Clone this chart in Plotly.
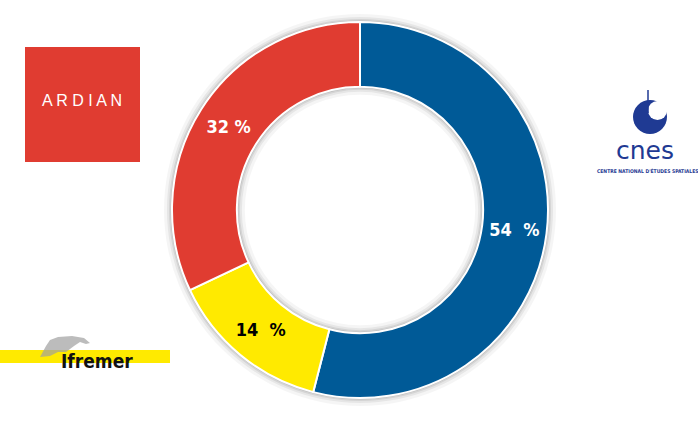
import plotly.graph_objects as go

W, H = 698, 424

labels = ["CNES", "Ifremer", "Ardian"]
values = [54, 14, 32]
text_labels = ["54  %", "14  %", "32 %"]
colors = ["#005A97", "#FFEA00", "#E03C31"]
text_colors = ["white", "black", "white"]

def px(x):
    return x / W

def py(y):
    return 1 - y / H

cx, cy, r = 360, 210, 188
HOLE = 0.655

fig = go.Figure()

# soft shadow rings behind the donut
for extra, alpha in [(8, 0.04), (5, 0.06), (3, 0.08), (1.5, 0.10)]:
    fig.add_trace(go.Pie(
        values=[1], marker=dict(colors=[f"rgba(0,0,0,{alpha})"]),
        hole=(r * HOLE - extra) / (r + extra), textinfo="none", hoverinfo="skip",
        showlegend=False, sort=False,
        domain=dict(x=[px(cx - r - extra), px(cx + r + extra)],
                    y=[py(cy + r + extra), py(cy - r - extra)]),
    ))

fig.add_trace(go.Pie(
    labels=labels, values=values, text=text_labels,
    textinfo="text", textposition="inside", insidetextorientation="horizontal",
    textfont=dict(family="DejaVu Sans Condensed, DejaVu Sans, sans-serif",
                  size=18, color=text_colors, weight="bold"),
    marker=dict(colors=colors, line=dict(color="white", width=2)),
    hole=HOLE, sort=False, direction="clockwise", rotation=0,
    showlegend=False, hoverinfo="label+percent",
    domain=dict(x=[px(cx - r), px(cx + r)], y=[py(cy + r), py(cy - r)]),
))

shapes = []
annotations = []

def ann(x, y, text, **font):
    annotations.append(dict(x=px(x), y=py(y), xref="paper", yref="paper",
                            xanchor="center", yanchor="middle",
                            text=text, showarrow=False, font=font))

# ARDIAN logo
shapes.append(dict(type="rect", xref="paper", yref="paper",
                   x0=px(25), x1=px(140), y0=py(162), y1=py(47),
                   fillcolor="#E03C31", line=dict(width=0)))
ann(82, 101, "A R D I A N", family="Liberation Sans, Arial", size=16, color="white")

# CNES logo
shapes.append(dict(type="circle", xref="paper", yref="paper",
                   x0=px(633), x1=px(667), y0=py(134), y1=py(100),
                   fillcolor="#1F3A93", line=dict(width=0)))
shapes.append(dict(type="circle", xref="paper", yref="paper",
                   x0=px(648), x1=px(667), y0=py(120), y1=py(101),
                   fillcolor="white", line=dict(width=0)))
shapes.append(dict(type="line", xref="paper", yref="paper",
                   x0=px(648), x1=px(648), y0=py(90), y1=py(113),
                   line=dict(color="#1F3A93", width=1.5)))
ann(645, 150, "cnes", family="DejaVu Sans, sans-serif", size=25, color="#1F3A93")
ann(648, 171, "<b>CENTRE NATIONAL D'ÉTUDES SPATIALES</b>",
    family="DejaVu Sans Condensed, sans-serif", size=5, color="#1F3A93")

# Ifremer logo
shapes.append(dict(type="rect", xref="paper", yref="paper",
                   x0=px(0), x1=px(170), y0=py(363), y1=py(350),
                   fillcolor="#FFEA00", line=dict(width=0)))
dolphin = [(40, 357), (46, 346), (50, 340), (58, 337), (72, 336), (84, 338),
           (90, 343), (86, 344), (80, 342), (74, 346), (66, 352), (58, 352), (50, 356)]
path = "M " + " L ".join(f"{px(x)},{py(y)}" for x, y in dolphin) + " Z"
shapes.append(dict(type="path", xref="paper", yref="paper", path=path,
                   fillcolor="rgba(160,160,160,0.7)", line=dict(width=0)))
ann(97, 361, "<b>Ifremer</b>", family="DejaVu Sans Condensed, sans-serif", size=19, color="#111111")

fig.update_layout(
    width=W, height=H,
    margin=dict(l=0, r=0, t=0, b=0),
    paper_bgcolor="white", plot_bgcolor="white",
    shapes=shapes, annotations=annotations,
    showlegend=False,
)

fig.write_html("out.html", config={"displayModeBar": False},
               post_script="document.body.style.margin='0';document.body.style.overflow='hidden';")
